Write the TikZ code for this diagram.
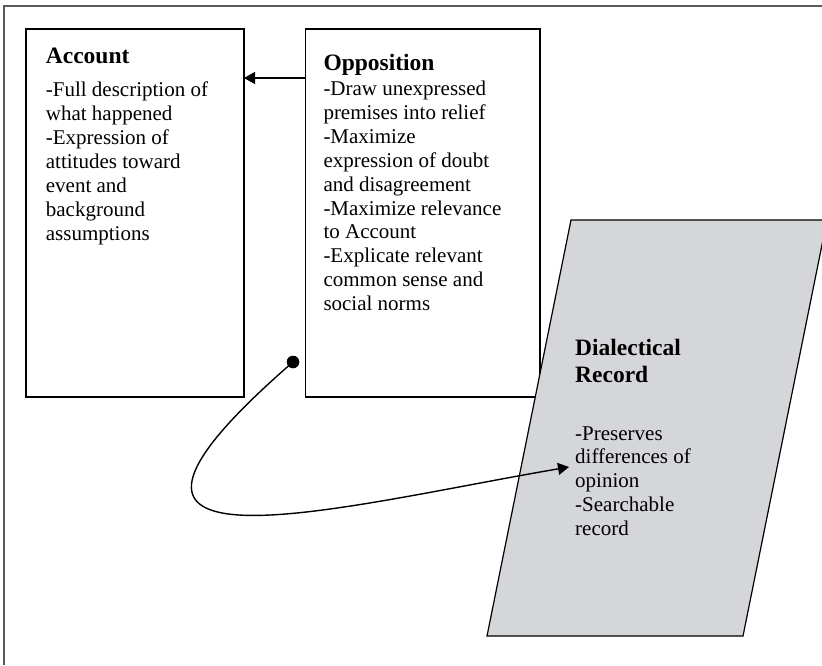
\documentclass[tikz,border=0pt]{standalone}
\usepackage{fontspec}
\setmainfont{Liberation Serif}
\usetikzlibrary{arrows.meta}
\definecolor{recordgray}{RGB}{213,214,217}
\definecolor{framegray}{RGB}{90,90,90}
% a block of lines whose reference point is the first baseline
\newcommand\linesblock[1]{\parbox[t]{230pt}{\raggedright #1}}
\begin{document}
\begin{tikzpicture}[x=1pt,y=-1pt,
  panel/.style={draw=black,line width=1.2pt,inner sep=0pt,outer sep=0pt,minimum height=368pt},
  heading/.style={anchor=base west,inner sep=0pt,font=\fontsize{23.5}{27}\selectfont\bfseries},
  body/.style={anchor=base west,inner sep=0pt,font=\fontsize{21}{23.9}\selectfont},
  link/.style={line width=1.4pt,-{Triangle[length=11pt,width=12pt]}},
]
\clip (0,0) rectangle (822,665);
\fill[white] (0,0) rectangle (822,665);

% outer frame (top and left edges)
\draw[framegray,line width=2pt] (4,665) -- (4,5.5) -- (822,5.5);

% the two text panels
\node[panel,minimum width=218pt] (acc) at (135,213) {};
\node[panel,minimum width=234.5pt] (opp) at (422.75,213) {};

\node[heading] (acctitle) at (45.7,63.3) {Account};
\node[body] (acctext) at (45.7,96.7) {\linesblock{-Full description of\\what happened\\-Expression of\\attitudes toward\\event and\\background\\assumptions}};

\node[heading] (opptitle) at (323.3,70) {Opposition};
\node[body] (opptext) at (323.3,95.5) {\linesblock{-Draw unexpressed\\premises into relief\\-Maximize\\expression of doubt\\and disagreement\\-Maximize relevance\\to Account\\-Explicate relevant\\common sense and\\social norms}};

% dialectical record sheet
\draw[fill=recordgray,line width=1.2pt] (571,220) -- (827,220) -- (743,636) -- (487,636) -- cycle;
\node[heading] (rectitle) at (575,355) {\linesblock{Dialectical\\Record}};
\node[body] (rectext) at (575,440) {\linesblock{-Preserves\\differences of\\opinion\\-Searchable\\record}};

% connectors
\coordinate (arrowy) at (0,78);
\draw[link] (opp.west |- arrowy) -- (acc.east |- arrowy);

\coordinate (src) at (293,362);
\coordinate (dst) at (569,467);
\draw[link] (src) .. controls (30,590) and (335,507) .. (dst);
\fill (src) circle (6.3);
\end{tikzpicture}
\end{document}
